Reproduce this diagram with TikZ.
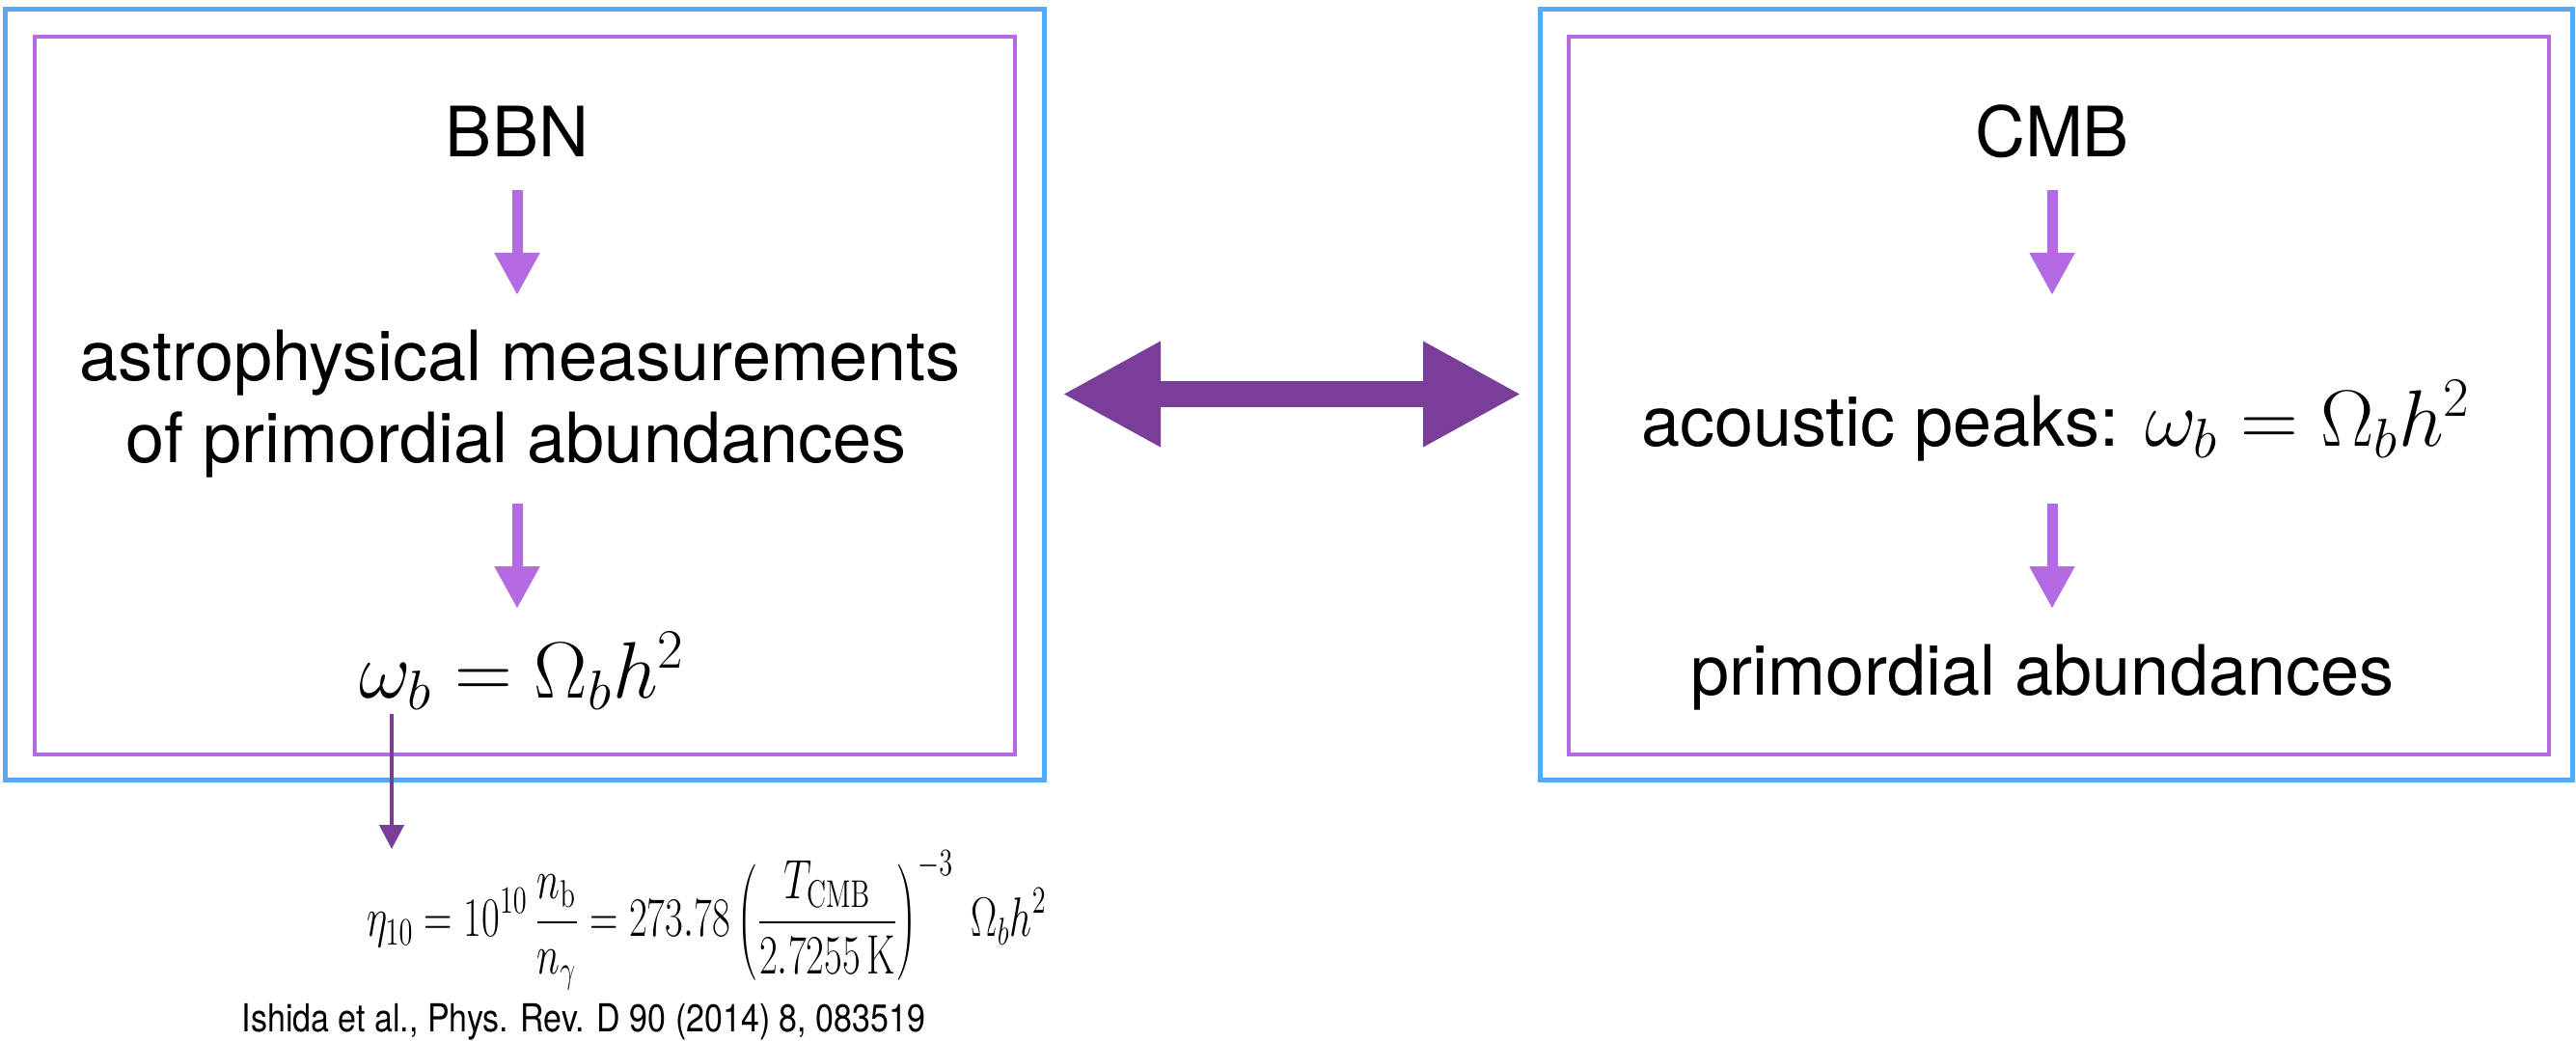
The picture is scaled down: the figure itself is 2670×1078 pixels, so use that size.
\documentclass[tikz,border=0pt]{standalone}
\usepackage[no-math]{fontspec}
\usepackage{graphicx}
\newfontfamily\hv{TeX Gyre Heros}
\newfontfamily\hvc[FakeStretch=0.85]{TeX Gyre Heros}
\usetikzlibrary{arrows.meta}
\definecolor{cblue}{RGB}{86,169,247}
\definecolor{cpurp}{RGB}{180,106,226}
\definecolor{cdark}{RGB}{120,62,154}
\newcommand{\bigmath}[1]{{\fontsize{24.5}{29}\selectfont$#1$}}
\begin{document}
\begin{tikzpicture}[x=0.3pt,y=-0.3pt,
  bluebox/.style={draw=cblue, line width=1.5pt, inner sep=0pt, outer sep=0pt},
  purpbox/.style={draw=cpurp, line width=1.2pt, inner sep=0pt, outer sep=0pt},
  txt/.style={inner sep=0pt, outer sep=0pt, anchor=base, text height=15pt, text depth=4.2pt,
    font=\hv\fontsize{21.6}{26}\selectfont},
  flowarr/.style={draw=cpurp, line width=3.3pt, -{Triangle[width=13.2pt,length=13.2pt]}},
  thinarr/.style={draw=cdark, line width=1.35pt, -{Triangle[width=7.5pt,length=7.5pt]}},
  dblarr/.style={draw=cdark, line width=8.1pt,
    {Triangle[width=30.6pt,length=30.6pt]}-{Triangle[width=30.6pt,length=30.6pt]}}
]
\useasboundingbox (0,0) rectangle (2670,1078);
% boxes
\node[bluebox, minimum width=1076*0.3pt, minimum height=799*0.3pt] (lblue) at (544,408.5) {};
\node[purpbox, minimum width=1016*0.3pt, minimum height=744*0.3pt] (lpurp) at (544,410) {};
\node[bluebox, minimum width=1070*0.3pt, minimum height=799*0.3pt] (rblue) at (2131,408.5) {};
\node[purpbox, minimum width=1016*0.3pt, minimum height=744*0.3pt] (rpurp) at (2134,410) {};
% left texts
\node[txt] (bbn) at (536,162) {BBN};
\node[txt] (astroA) at (539,394) {astrophysical measurements};
\node[txt] (astroB) at (535,479) {of primordial abundances};
\node[txt] (omegaL) at (541,723) {\bigmath{\omega_b = \Omega_b h^2}};
% right texts
\node[txt] (cmb) at (2127,162) {CMB};
\node[txt] (acoustic) at (2131,462) {acoustic peaks: \bigmath{\omega_b = \Omega_b h^2}};
\node[txt] (prim) at (2117,720) {primordial abundances};
% flow arrows
\draw[flowarr, shorten <=6.3pt, shorten >=11.4pt] (bbn.south) -- (bbn.south |- astroA.north);
\draw[flowarr, shorten <=8.7pt, shorten >=12.6pt] (bbn.south |- astroB.south) -- (bbn.south |- omegaL.north);
\draw[flowarr, shorten <=6.3pt, shorten >=31.8pt] (cmb.south) -- (cmb.south |- acoustic.north);
\draw[flowarr, shorten <=13.8pt, shorten >=11.7pt] (cmb.south |- acoustic.south) -- (cmb.south |- prim.north);
% double arrow
\draw[dblarr, shorten <=5.7pt, shorten >=5.7pt] (lblue.east) -- (rblue.west);
% bottom equation
\node[anchor=west, inner sep=0pt, outer sep=0pt, font=\fontsize{17.3}{21}\selectfont] (eta) at (380,954)
  {\scalebox{0.708}[1]{$\displaystyle \eta_{10} = 10^{10}\,\frac{n_\mathrm{b}}{n_\gamma} = 273.78\left(\frac{T_\mathrm{CMB}}{2.7255\,\mathrm{K}}\right)^{-3}\;\Omega_b h^2$}};
\coordinate (etatop) at (406,880);
\draw[thinarr, shorten <=1pt] (omegaL.south -| etatop) -- (etatop);
\node[anchor=base west, inner sep=0pt, font=\hvc\fontsize{12}{14}\selectfont] (ref) at (250,1069)
  {Ishida et al., Phys. Rev. D 90 (2014) 8, 083519};
\end{tikzpicture}
\end{document}
